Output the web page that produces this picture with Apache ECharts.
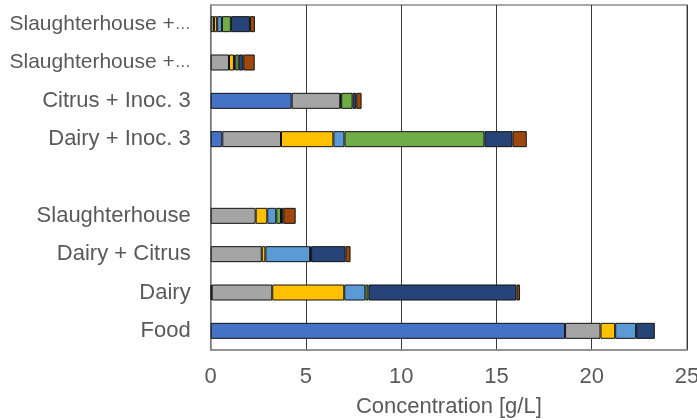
<!DOCTYPE html>
<html>
<head>
<meta charset="utf-8">
<script src="https://cdn.jsdelivr.net/npm/echarts@6/dist/echarts.min.js"></script>
<style>html,body{margin:0;padding:0;background:#fff}#c{width:697px;height:420px}</style>
</head>
<body>
<div id="c"></div>
<script>
var categories = ['Food', 'Dairy', 'Dairy + Citrus', 'Slaughterhouse', '', 'Dairy + Inoc. 3', 'Citrus + Inoc. 3', 'Slaughterhouse + Inoc. 3', 'Slaughterhouse + Citrus'];
var seriesNames = ['Series 1', 'Series 2', 'Series 3', 'Series 4', 'Series 5', 'Series 6', 'Series 7'];
var s1 = [18.6, 0.05, null, null, null, 0.61, 4.25, null, null];
var s2 = [1.86, 3.18, 2.68, 2.36, null, 3.08, 2.55, 0.96, 0.17];
var s3 = [0.77, 3.78, 0.19, 0.61, null, 2.75, 0.05, 0.26, 0.17];
var s4 = [1.10, 1.11, 2.35, 0.47, null, 0.58, null, 0.07, 0.25];
var s5 = [null, 0.16, 0.05, 0.25, null, 7.35, 0.60, 0.18, 0.47];
var s6 = [0.98, 7.77, 1.81, 0.12, null, 1.47, 0.19, 0.24, 1.00];
var s7 = [null, 0.18, 0.26, 0.65, null, 0.75, 0.28, 0.60, 0.26];
var xTicks = [0, 5, 10, 15, 20, 25];

var colors = ['#4472C4', '#A5A5A5', '#FFC000', '#5B9BD5', '#70AD47', '#264478', '#9E480E'];
var values = [s1, s2, s3, s4, s5, s6, s7];
var series = values.map(function (d, i) {
  return {
    name: seriesNames[i], type: 'bar', stack: 'total', data: d, barWidth: 16,
    itemStyle: { color: colors[i], borderColor: '#111', borderWidth: 1 }
  };
});
var chart = echarts.init(document.getElementById('c'), null, { renderer: 'canvas' });
chart.setOption({
  animation: false,
  backgroundColor: '#fff',
  grid: { left: 210.7, right: 10, top: 5, bottom: 70, show: true, borderColor: '#8c8c8c', borderWidth: 1.5, outerBoundsMode: 'none', containLabel: false },
  xAxis: {
    type: 'value', min: xTicks[0], max: xTicks[xTicks.length - 1], interval: 5,
    name: 'Concentration [g/L]', nameLocation: 'middle', nameGap: 46,
    nameTextStyle: { fontFamily: 'Liberation Sans, Arial', fontSize: 22, color: '#595959' },
    axisLine: { show: true, lineStyle: { color: '#8c8c8c', width: 1.5 } },
    axisTick: { show: false },
    axisLabel: { fontFamily: 'Liberation Sans, Arial', fontSize: 22, color: '#595959', margin: 16 },
    splitLine: { show: true, lineStyle: { color: '#3a3a3a', width: 1 } }
  },
  yAxis: {
    type: 'category', data: categories,
    axisLine: { show: true, lineStyle: { color: '#8c8c8c', width: 1.5 } },
    axisTick: { show: false },
    axisLabel: {
      fontFamily: 'Liberation Sans, Arial', fontSize: 22, color: '#595959', margin: 20, interval: 0,
      formatter: function (v) { return v.length > 18 ? '{t|' + v.slice(0, 16) + '}{e|\u2026}' : v; },
      rich: {
        t: { fontFamily: 'Liberation Sans, Arial', fontSize: 21, color: '#595959' },
        e: { fontFamily: 'Liberation Sans, Arial', fontSize: 16, color: '#595959', verticalAlign: 'bottom', padding: [0, 0, 2, 0] }
      }
    },
    splitLine: { show: false }
  },
  series: series
});
</script>
</body>
</html>
